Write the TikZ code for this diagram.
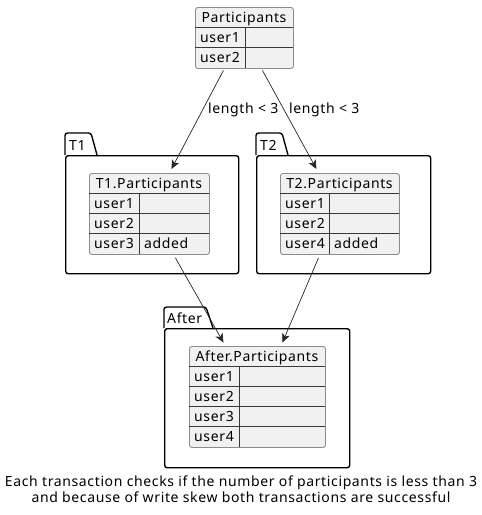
\documentclass[tikz,border=0pt]{standalone}
\usepackage{fontspec}
\setmainfont{Noto Sans}[LetterSpace=4.5]
\usetikzlibrary{arrows.meta,calc}
\definecolor{cellfill}{HTML}{F1F1F1}
\definecolor{outer}{HTML}{8C8C8C}
\definecolor{inner}{HTML}{383838}
\begin{document}
\begin{tikzpicture}[x=1pt,y=-1pt,
  tbl/.style={draw=outer, fill=cellfill, rounded corners=2.5pt, line width=0.9pt, inner sep=0pt, anchor=north west},
  sep/.style={draw=inner, line width=0.9pt},
  txt/.style={font=\fontsize{14}{16}\selectfont, inner sep=0pt, anchor=base west},
  hdr/.style={font=\fontsize{14}{16}\selectfont, inner sep=0pt, anchor=base},
  pkg/.style={draw=black, line width=1.4pt, rounded corners=2.5pt},
  pkgbody/.style={pkg, inner sep=0pt, anchor=north west},
  conn/.style={-{Stealth[length=9pt,width=8pt,inset=2.5pt]}, line width=0.7pt, draw=black!85}
]
\useasboundingbox (0,0) rectangle (482,515);

% ---------- Participants ----------
\node[tbl, minimum width=98pt, minimum height=61pt] (P) at (195,7) {};
\draw[sep] (195,27) -- (293,27) (195,47) -- (293,47) (245,27) -- (245,68);
\node[hdr] (Ph) at (244,22.5) {Participants};
\node[txt] (Pu1) at (200,42) {user1};
\node[txt] (Pu2) at (200,62) {user2};

% ---------- T1 package ----------
\draw[pkg] (65,155) -- (65,133) -- (91,133) -- (97,155);
\node[pkgbody, minimum width=173pt, minimum height=118pt] (T1) at (65,155) {};
\node[txt] (T1l) at (69,150) {T1};
\node[tbl, minimum width=120pt, minimum height=81pt] (T1P) at (89,173) {};
\draw[sep] (89,193) -- (209,193) (89,213) -- (209,213) (89,233) -- (209,233) (139,193) -- (139,254);
\node[hdr] (T1h) at (149,188.5) {T1.Participants};
\node[txt] (T1u1) at (94,208) {user1};
\node[txt] (T1u2) at (94,228) {user2};
\node[txt] (T1u3) at (94,248) {user3};
\node[txt] (T1a) at (144,248) {added};

% ---------- T2 package ----------
\draw[pkg] (256,155) -- (256,133) -- (282,133) -- (288,155);
\node[pkgbody, minimum width=174pt, minimum height=118pt] (T2) at (256,155) {};
\node[txt] (T2l) at (260,150) {T2};
\node[tbl, minimum width=119pt, minimum height=81pt] (T2P) at (280,173) {};
\draw[sep] (280,193) -- (399,193) (280,213) -- (399,213) (280,233) -- (399,233) (329,193) -- (329,254);
\node[hdr] (T2h) at (339.5,188.5) {T2.Participants};
\node[txt] (T2u1) at (285,208) {user1};
\node[txt] (T2u2) at (285,228) {user2};
\node[txt] (T2u4) at (285,248) {user4};
\node[txt] (T2a) at (334,248) {added};

% ---------- After package ----------
\draw[pkg] (164,328) -- (164,307) -- (206,307) -- (213,328);
\node[pkgbody, minimum width=185pt, minimum height=139pt] (AF) at (164,328) {};
\node[txt] (AFl) at (167,323) {After};
\node[tbl, minimum width=136pt, minimum height=101pt] (AP) at (189,346) {};
\draw[sep] (189,366) -- (325,366) (189,386.5) -- (325,386.5) (189,406.5) -- (325,406.5) (189,426.5) -- (325,426.5) (239,366) -- (239,447);
\node[hdr] (APh) at (257,361.5) {After.Participants};
\node[txt] (APu1) at (194,381) {user1};
\node[txt] (APu2) at (194,401.5) {user2};
\node[txt] (APu3) at (194,421.5) {user3};
\node[txt] (APu4) at (194,441.5) {user4};

% ---------- connectors ----------
\draw[conn] ($(P.south)+(-21,1.5)$) -- ($(T1P.north)+(22,-4)$);
\draw[conn] ($(P.south)+(18,1.5)$) -- ($(T2P.north)+(-23.5,-4)$);
\node[txt] (L1) at (208,113) {length < 3};
\node[txt] (L2) at (289,113) {length < 3};
\draw[conn] ($(T1P.south)+(26,3)$) -- ($(AP.north)+(-34,-3.5)$);
\draw[conn] ($(T2P.south)+(-21.5,3)$) -- ($(AP.north)+(25,-3.5)$);

% ---------- caption ----------
\node[hdr] (C1) at (241,486) {Each transaction checks if the number of participants is less than 3};
\node[hdr] (C2) at (241,502) {and because of write skew both transactions are successful};
\end{tikzpicture}
\end{document}
